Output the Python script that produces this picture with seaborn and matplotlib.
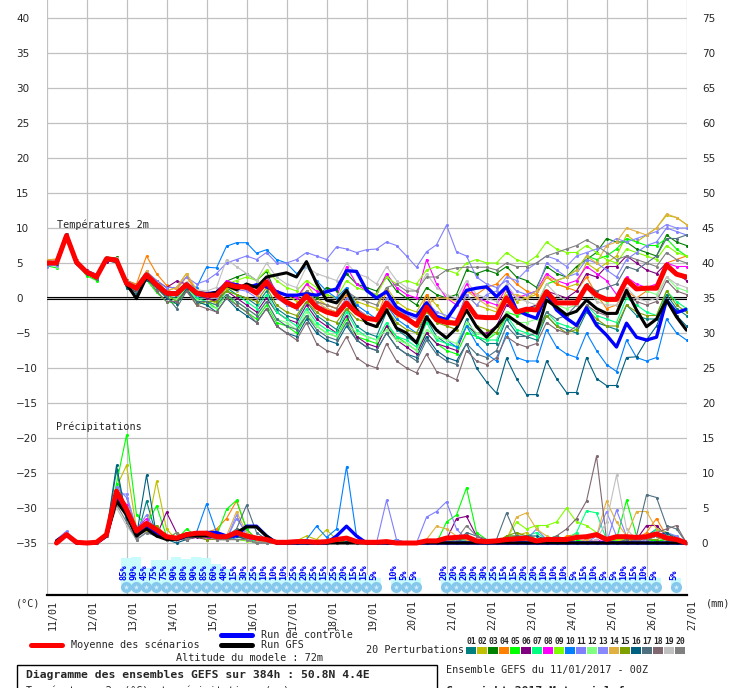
import numpy as np
import pandas as pd
import seaborn as sns
import matplotlib.pyplot as plt
from matplotlib.lines import Line2D
from matplotlib.patches import Rectangle

W, H = 729, 688

# ---- data (6-hourly steps from 11/01 00Z, 65 steps) ----
dates = ["11/01", "12/01", "13/01", "14/01", "15/01", "16/01", "17/01", "18/01", "19/01",
         "20/01", "21/01", "22/01", "23/01", "24/01", "25/01", "26/01", "27/01"]

# ensemble mean / control / GFS temperatures (°C)
t_mean = [5.0, 5.0, 8.9, 5.1, 3.7, 3.0, 5.6, 5.4,
          2.1, 1.4, 3.3, 1.9, 0.7, 0.6, 1.9, 0.7,
          0.4, 0.4, 2.0, 1.6, 1.6, 0.7, 2.3, 0.4,
          -0.6, -1.3, 0.3, -1.3, -2.0, -2.4, -0.7, -2.1,
          -2.9, -3.1, -0.7, -2.1, -2.9, -3.9, -1.3, -3.1,
          -3.5, -3.6, -0.7, -2.7, -2.8, -2.8, 0.0, -2.0,
          -1.6, -1.7, 0.9, -0.7, -0.7, -0.7, 1.7, 0.4,
          -0.2, -0.2, 2.6, 1.3, 1.4, 1.4, 4.7, 3.4, 3.0]
t_ctrl = [5.0, 5.0, 9.0, 5.0, 3.7, 3.0, 5.6, 5.4,
          2.0, 1.4, 3.4, 1.9, 0.8, 0.7, 2.0, 0.8,
          0.6, 0.8, 2.1, 1.9, 1.4, 1.9, 1.6, 0.9,
          0.4, 0.4, 0.6, 0.4, 0.9, 1.3, 3.9, 3.8,
          1.1, 0.0, 0.9, -1.3, -2.1, -2.6, -0.7, -2.6,
          -3.1, -1.0, 1.1, 1.4, 1.6, 0.2, 1.6, -1.7,
          -2.4, -2.9, 0.7, -1.7, -2.9, -3.9, -1.4, -3.9,
          -5.3, -7.0, -3.6, -5.6, -6.0, -5.6, -0.3, -2.1, -1.6]
t_gfs = [5.0, 5.0, 9.0, 5.0, 3.7, 3.0, 5.7, 5.5,
         2.0, -0.1, 3.0, 1.8, 0.6, 0.5, 1.8, 0.6,
         0.5, 0.8, 1.8, 1.2, 2.0, 1.5, 3.0, 3.3,
         3.6, 3.0, 5.2, 2.1, -0.3, -0.7, 1.1, -1.7,
         -3.6, -4.1, -1.7, -4.3, -5.0, -6.4, -2.7, -4.6,
         -5.7, -4.3, -1.7, -4.1, -5.6, -4.1, -2.4, -3.4,
         -4.3, -5.0, -0.3, -1.3, -2.4, -1.9, -0.3, -1.5,
         -2.2, -2.2, 1.1, -1.7, -4.1, -3.0, -0.3, -2.7, -4.6]

# 20 perturbations, temperature (°C)
t01 = [5.3, 5.2, 8.8, 5.0, 3.5, 2.8, 5.8, 5.5, 2.0, 0.8, 3.0, 1.5, 0.3, 0.0, 1.5, 0.2,
       0.0, -0.5, 1.5, 0.5, 0.0, -1.0, 1.0, -1.5, -2.5, -3.0, -0.5, -2.5, -3.5, -4.5, -1.5, -4.0,
       -5.0, -5.5, -2.0, -4.5, -5.5, -6.5, -3.0, -5.5, -6.5, -7.0, -3.0, -5.5, -6.5, -6.5, -3.0, -5.0,
       -5.5, -6.0, -2.5, -4.0, -4.5, -5.0, -2.0, -3.5, -4.0, -4.5, -1.0, -2.5, -3.0, -3.0, 0.5, -1.5, -2.5]
t02 = [5.0, 5.0, 9.0, 5.2, 3.8, 3.2, 5.5, 5.8, 2.5, 1.8, 3.8, 2.5, 1.0, 1.5, 3.5, 1.0,
       0.0, -0.8, 1.5, 1.0, 2.0, 0.5, 3.0, 1.0, 0.5, -0.5, 2.0, 0.0, -1.0, -1.5, 1.0, -0.5,
       -1.0, -1.5, 1.5, -0.5, -1.5, -2.0, 0.5, -1.0, -3.0, -3.5, 0.5, -1.0, -1.5, -2.0, 1.0, -0.5,
       0.0, 0.5, 3.0, 2.0, 1.5, 2.0, 5.0, 4.0, 5.0, 6.0, 9.0, 8.0, 9.0, 10.0, 11.8, 11.5, 10.5]
t03 = [4.8, 4.9, 8.7, 5.3, 3.6, 2.6, 5.4, 5.8, 2.6, 1.7, 3.2, 2.3, 1.0, 0.2, 1.6, 0.6,
       0.6, 0.6, 2.4, 3.0, 3.5, 2.5, 3.8, 0.5, -1.0, -1.5, 1.0, 0.0, 1.5, 1.0, 3.5, 2.0,
       1.5, 1.0, 3.0, 1.0, 0.0, -1.0, 1.5, 0.5, 0.0, 0.5, 4.0, 3.5, 4.0, 3.5, 4.5, 3.0,
       2.5, 1.5, 4.5, 3.5, 3.0, 4.5, 5.5, 6.5, 8.5, 8.0, 8.0, 7.0, 6.5, 6.0, 9.0, 8.0, 7.5]
t04 = [5.5, 5.5, 9.0, 5.0, 3.9, 3.0, 5.5, 5.2, 2.5, 2.0, 6.0, 3.5, 1.8, 1.2, 3.0, 1.0,
       0.8, 0.6, 2.2, 1.5, 1.2, 0.5, 1.8, 0.2, -0.5, -1.0, 0.5, -0.5, -1.0, -1.5, 0.5, -1.5,
       -2.5, -3.0, 1.0, -1.5, -2.5, -4.0, 0.5, -3.0, -3.5, -4.0, 1.0, 0.5, 1.5, 2.0, 3.5, 2.0,
       1.0, 0.5, 3.0, 2.0, 1.5, 1.0, 3.0, 0.5, -1.5, -1.0, 1.0, 0.0, 1.0, 2.0, 5.0, 5.5, 6.0]
t05 = [4.6, 4.3, 8.8, 5.0, 3.2, 2.5, 5.8, 5.0, 1.5, 0.8, 2.6, 0.8, -0.5, -0.8, 1.0, -0.5,
       -0.5, -1.5, 0.5, -1.0, -2.0, -3.0, -1.0, -3.5, -4.0, -5.0, -2.5, -4.0, -5.0, -5.5, -3.0, -5.5,
       -6.0, -6.5, -4.0, -5.5, -6.5, -7.5, -5.0, -6.5, -7.5, -8.0, -5.0, -5.5, -6.0, -5.0, -2.0, -2.5,
       -2.0, -1.0, 2.0, 2.5, 3.0, 4.0, 6.0, 5.5, 6.0, 7.0, 8.5, 8.0, 7.5, 7.5, 8.5, 7.0, 6.0]
t06 = [5.0, 4.8, 8.9, 5.5, 4.0, 3.4, 5.2, 5.3, 1.8, 0.8, 3.5, 2.5, 1.5, 2.4, 2.0, 0.5,
       0.0, -0.5, 1.0, 0.0, -1.0, -2.0, 0.0, -2.0, -3.0, -3.5, -1.0, -3.0, -4.0, -5.0, -2.5, -5.5,
       -6.5, -7.0, -4.0, -6.0, -7.0, -8.0, -5.0, -6.5, -7.0, -7.5, -4.0, -5.0, -5.0, -4.0, -1.0, -2.0,
       -1.5, -1.0, 1.0, 0.5, 0.0, 1.0, 3.5, 3.0, 4.5, 4.5, 6.0, 5.0, 4.0, 3.5, 5.0, 3.5, 2.5]
t07 = [4.9, 5.0, 9.0, 4.8, 3.5, 2.9, 5.6, 5.3, 1.8, 1.2, 3.0, 1.5, 0.2, -0.3, 1.4, 0.0,
       -0.5, -1.0, 1.0, 0.5, -0.5, -1.5, 0.5, -2.0, -3.0, -4.0, -1.5, -3.5, -4.5, -5.0, -2.0, -4.5,
       -5.5, -6.0, -3.5, -5.5, -6.0, -7.0, -3.5, -6.0, -6.5, -7.0, -4.0, -5.5, -6.0, -6.0, -2.5, -4.5,
       -5.0, -5.5, -2.0, -3.5, -4.0, -4.5, -1.0, -2.5, -3.0, -3.5, 0.0, -1.0, -2.0, -2.5, 1.0, -0.5, -1.5]
t08 = [5.1, 5.0, 9.0, 5.2, 3.8, 3.1, 5.7, 5.6, 2.2, 1.6, 3.6, 2.0, 0.8, 0.7, 2.2, 1.0,
       0.6, 0.5, 2.5, 2.0, 1.5, 1.0, 3.0, 1.0, 0.5, 0.0, 2.0, 1.0, 0.5, 0.0, 4.5, 2.0,
       1.0, 0.5, 3.5, 1.5, 0.5, 0.0, 5.5, 2.0, 0.0, -1.0, 2.0, 0.0, -0.5, -1.0, 1.5, 0.0,
       0.5, 1.0, 3.5, 2.5, 2.0, 2.5, 4.5, 3.5, 2.5, 0.5, 3.0, 2.0, 1.5, 2.0, 5.0, 4.5, 4.5]
t09 = [5.2, 5.1, 8.9, 5.1, 3.8, 3.0, 5.5, 5.6, 2.2, 1.5, 3.4, 2.0, 0.8, 0.6, 2.0, 0.8,
       0.5, 0.3, 2.0, 2.5, 3.0, 2.5, 4.0, 2.5, 1.5, 1.0, 2.5, 1.5, 0.5, 0.0, 2.5, 1.5,
       1.0, 0.5, 3.0, 2.0, 2.5, 2.0, 4.0, 4.5, 4.0, 3.5, 5.0, 5.5, 5.0, 5.0, 6.5, 5.5,
       5.0, 6.0, 8.0, 7.0, 6.5, 6.5, 7.5, 6.5, 5.5, 5.0, 7.0, 6.5, 6.0, 5.5, 7.5, 6.5, 6.0]
t10 = [5.0, 5.0, 9.0, 5.0, 3.7, 3.0, 5.5, 5.4, 2.0, 1.4, 3.3, 2.0, 0.8, 0.8, 2.0, 1.5,
       4.4, 4.3, 7.4, 7.9, 7.9, 6.4, 6.9, 5.5, 5.0, 3.5, 4.5, 2.5, 1.0, 0.0, 1.5, -1.0,
       -2.0, -3.0, -1.0, -3.0, -4.0, -5.0, -2.5, -4.5, -6.0, -7.0, -4.0, -6.5, -8.0, -9.0, -5.0, -8.5,
       -9.0, -9.0, -4.5, -7.0, -8.0, -8.5, -5.0, -7.5, -9.5, -10.5, -6.0, -8.5, -9.0, -8.5, -3.0, -5.0, -6.0]
t11 = [4.5, 4.8, 9.0, 5.2, 3.8, 3.2, 5.8, 5.6, 2.5, 1.8, 3.8, 2.5, 1.5, 1.5, 3.0, 2.0,
       2.5, 3.5, 5.0, 5.5, 6.0, 5.5, 6.5, 5.0, 5.0, 5.5, 6.5, 6.0, 5.5, 7.3, 7.0, 6.5,
       6.9, 7.0, 8.0, 7.5, 6.0, 4.4, 6.6, 7.6, 10.4, 6.6, 6.0, 3.0, 2.0, 1.5, 2.5, 1.0,
       0.5, 1.0, 5.0, 4.0, 3.0, 3.5, 5.5, 5.0, 4.0, 3.0, 5.5, 6.5, 7.5, 8.0, 10.0, 9.5, 9.0]
t12 = [5.0, 4.5, 8.8, 5.0, 3.5, 2.8, 5.5, 5.2, 1.8, 1.0, 2.8, 1.2, 0.2, -0.2, 1.5, -0.3,
       -1.0, -1.5, 0.5, -0.5, -1.5, -2.5, -0.5, -3.0, -3.5, -4.5, -2.0, -4.0, -5.0, -5.5, -3.5, -5.0,
       -5.5, -6.0, -4.5, -6.0, -6.5, -7.5, -4.5, -5.5, -6.0, -6.5, -3.5, -5.0, -5.5, -5.0, -2.0, -3.5,
       -3.5, -3.0, 0.0, -1.0, -1.5, -1.0, 1.5, 0.0, -0.5, 0.0, 2.5, 1.5, 1.0, 0.5, 3.0, 1.5, 1.0]
t13 = [4.7, 4.6, 9.0, 5.0, 3.7, 3.0, 5.6, 5.5, 2.0, 1.3, 3.0, 1.8, 0.6, 0.4, 1.8, 0.5,
       0.3, 0.0, 1.8, 1.2, 1.0, 0.0, 2.0, 0.0, -1.0, -1.5, 0.5, -1.0, -1.5, -2.0, 0.0, -1.5,
       -2.5, -3.0, 0.0, -1.5, -2.5, -3.0, -0.5, -2.0, -2.5, -3.0, 0.5, -1.0, 0.5, 1.0, 3.0, 2.5,
       4.0, 5.0, 6.0, 5.5, 4.5, 6.0, 6.5, 7.0, 7.5, 8.5, 8.0, 8.5, 9.0, 9.5, 10.5, 10.0, 10.0]
t14 = [5.4, 5.6, 9.0, 5.4, 3.9, 3.3, 5.9, 5.7, 2.4, 1.8, 3.8, 2.2, 1.0, 1.5, 3.5, 1.2,
       0.5, 0.3, 2.0, 1.5, 1.5, 0.5, 2.5, 0.5, -0.5, -1.0, 1.0, -0.5, -1.5, -2.0, -0.5, -2.0,
       -2.5, -3.5, -0.5, -2.5, -3.0, -3.5, -1.0, 0.0, 0.0, -0.5, 1.0, 0.0, -1.0, -1.5, 0.5, 0.5,
       0.0, 1.0, 3.0, 2.5, 3.0, 4.0, 6.0, 5.0, 7.5, 8.0, 10.0, 9.5, 9.0, 10.0, 12.0, 11.5, 10.5]
t15 = [5.0, 5.0, 8.8, 5.0, 3.6, 2.8, 5.4, 5.3, 1.9, 1.2, 3.1, 1.7, 0.5, -0.5, 1.2, -1.0,
       -0.5, -0.5, 1.0, 0.5, 0.0, -0.5, 1.5, -1.0, -2.0, -2.5, -0.5, -2.0, -3.0, -3.5, -1.5, -3.0,
       -3.5, -4.0, -1.5, -3.5, -4.5, -5.0, -2.0, -3.5, -4.0, -4.5, -2.0, -4.0, -4.5, -5.0, -2.5, -3.5,
       -4.5, -5.0, -2.5, -4.0, -5.0, -4.5, -1.5, -3.0, -4.0, -4.0, -1.0, -2.0, -2.5, -2.5, 1.0, -1.0, -2.0]
t16 = [5.0, 4.9, 8.8, 5.0, 3.5, 2.8, 5.4, 5.0, 1.5, 0.5, 2.6, 1.5, 0.0, -0.8, 1.3, -0.5,
       -1.0, -2.0, 0.0, -1.5, -2.5, -3.5, -1.5, -4.0, -5.0, -5.5, -3.0, -5.0, -6.0, -6.5, -4.0, -6.0,
       -7.0, -7.5, -5.0, -7.0, -8.0, -8.5, -5.5, -7.5, -8.5, -9.0, -6.5, -10.0, -12.0, -13.6, -8.6, -11.5,
       -13.8, -13.8, -9.0, -11.5, -13.5, -13.5, -8.5, -11.5, -12.5, -12.5, -8.5, -8.4, -6.0, -4.0, -0.5, -2.5, -4.0]
t17 = [5.1, 5.0, 8.9, 5.1, 3.6, 2.7, 5.5, 5.2, 1.8, 1.0, 3.0, 1.5, 0.3, -1.5, 1.0, -0.5,
       -0.5, -1.0, 0.5, -0.5, -1.5, -2.5, -0.5, -3.0, -4.0, -4.5, -2.5, -4.5, -5.5, -6.0, -3.5, -6.0,
       -7.0, -7.5, -5.0, -7.0, -8.0, -9.0, -6.0, -8.0, -9.0, -9.5, -6.5, -8.0, -8.5, -7.5, -4.0, -5.5,
       -5.5, -5.0, -2.0, -3.0, -2.5, -1.0, 2.0, 1.0, 1.5, 2.0, 4.5, 4.0, 5.0, 6.0, 8.5, 8.5, 9.0]
t18 = [4.9, 5.0, 9.2, 5.0, 3.6, 2.9, 5.5, 5.4, 2.0, 1.3, 3.0, 1.0, -0.5, -0.5, 1.0, -1.0,
       -1.5, -2.0, 0.0, -1.0, -2.0, -3.5, -1.5, -4.0, -5.0, -6.0, -3.5, -6.5, -7.5, -8.0, -5.5, -8.5,
       -9.5, -10.0, -6.5, -9.0, -10.0, -10.7, -8.0, -10.5, -11.0, -11.7, -7.5, -9.0, -9.5, -8.5, -5.5, -6.5,
       -7.0, -6.5, -3.5, -4.5, -5.0, -4.0, -1.0, -2.0, -2.5, -2.0, 0.5, -0.5, -1.0, -0.5, 2.5, 1.0, 0.5]
t19 = [5.0, 5.2, 9.0, 5.3, 3.9, 3.2, 5.8, 5.7, 2.3, 1.6, 3.5, 2.2, 1.0, 0.8, 2.3, 1.2,
       1.0, 1.5, 5.5, 4.5, 3.5, 2.5, 5.0, 3.0, 2.0, 1.5, 4.5, 3.5, 3.0, 2.5, 5.0, 3.5,
       3.0, 2.0, 4.5, 2.5, 1.5, 1.0, 3.5, 1.5, 0.5, 0.0, 2.5, 0.5, 0.0, -0.5, 2.0, 0.0,
       -0.5, -1.0, 2.0, 0.5, -0.5, -1.0, 1.5, -0.5, -1.0, -1.0, 1.5, 0.0, -0.5, 0.0, 3.0, 2.0, 1.5]
t20 = [5.2, 5.2, 9.1, 5.2, 3.8, 3.1, 5.6, 5.5, 2.1, 1.5, 3.4, 2.0, 0.8, 0.6, 2.0, 0.8,
       0.5, 0.5, 2.0, 1.8, 1.5, 0.8, 2.5, 0.5, -0.5, -1.0, 1.0, -0.5, -1.0, -1.5, 1.0, 0.0,
       -0.5, -1.0, 1.5, 2.0, 1.0, 1.0, 3.0, 3.0, 4.0, 4.3, 4.4, 4.4, 4.4, 4.0, 5.0, 4.5,
       4.5, 5.0, 6.0, 6.5, 7.0, 7.5, 8.3, 7.5, 6.5, 5.5, 6.0, 5.5, 5.0, 4.5, 6.5, 5.5, 5.0]

# precipitation (mm / 6h), steps 1..64
p_mean = [0.0, 1.2, 0.1, 0.0, 0.1, 1.2, 7.4, 4.8, 1.7, 2.8, 1.9, 0.9, 0.7, 1.2, 1.4, 1.4,
          0.9, 0.9, 1.5, 1.0, 0.7, 0.5, 0.1, 0.1, 0.2, 0.2, 0.1, 0.2, 0.5, 0.7, 0.2, 0.1,
          0.1, 0.2, 0.0, 0.0, 0.0, 0.3, 0.3, 0.7, 0.8, 0.9, 0.3, 0.2, 0.3, 0.5, 0.6, 0.7,
          0.3, 0.5, 0.5, 0.5, 0.8, 0.9, 1.2, 0.5, 0.9, 0.9, 0.8, 0.9, 1.3, 0.7, 0.5, 0.0]
p_ctrl = [0.3, 1.2, 0.0, 0.0, 0.0, 1.0, 6.5, 4.5, 1.5, 2.5, 1.5, 0.8, 0.5, 1.0, 1.2, 1.5,
          1.5, 1.0, 1.0, 2.4, 2.4, 1.0, 0.0, 0.0, 0.0, 0.0, 0.0, 0.0, 1.0, 2.4, 1.0, 0.0,
          0.0, 0.0, 0.0, 0.0, 0.0, 0.0, 0.0, 0.0, 0.0, 0.0, 0.0, 0.0, 0.0, 0.0, 0.0, 0.0,
          0.0, 0.0, 0.0, 0.0, 0.0, 0.0, 0.0, 0.0, 0.0, 0.0, 0.0, 0.0, 0.0, 0.0, 0.0, 0.0]
p_gfs = [0.3, 1.2, 0.0, 0.0, 0.0, 1.0, 6.0, 4.0, 1.0, 2.0, 1.0, 0.5, 0.5, 1.0, 1.0, 1.0,
         1.0, 0.8, 1.5, 2.3, 2.3, 1.0, 0.0, 0.0, 0.0, 0.0, 0.0, 0.0, 0.0, 0.0, 0.0, 0.0,
         0.0, 0.0, 0.0, 0.0, 0.0, 0.0, 0.0, 0.0, 0.0, 0.0, 0.0, 0.0, 0.0, 0.0, 0.0, 0.0,
         0.0, 0.0, 0.0, 0.0, 0.0, 0.0, 0.0, 0.0, 0.0, 0.0, 0.0, 0.0, 0.0, 0.0, 0.0, 0.0]

p01 = [0.3, 1.0, 0.0, 0.0, 0.0, 1.5, 10.4, 3.0, 0.5, 6.0, 1.0, 0.5, 0.3, 0.8, 1.0, 1.2,
       0.8, 0.5, 1.0, 0.5, 0.3, 0.0, 0.0, 0.0, 0.0, 0.0, 0.0, 0.0, 0.0, 0.2, 0.0, 0.0,
       0.0, 0.0, 0.0, 0.0, 0.0, 0.0, 0.2, 0.5, 0.3, 0.5, 0.2, 0.0, 0.0, 0.0, 0.0, 0.2,
       0.0, 0.0, 0.0, 0.0, 0.0, 0.0, 0.0, 0.0, 0.0, 0.0, 0.5, 1.0, 2.0, 1.5, 0.8, 0.0]
p02 = [0.2, 1.2, 0.0, 0.0, 0.0, 1.0, 8.0, 11.1, 2.0, 1.5, 8.8, 2.0, 0.5, 0.5, 1.0, 1.5,
       1.0, 0.5, 2.0, 1.0, 0.5, 0.2, 0.0, 0.0, 0.3, 1.0, 0.5, 1.9, 0.5, 0.0, 0.0, 0.0,
       0.0, 0.0, 0.0, 0.0, 0.0, 0.0, 0.0, 0.3, 0.5, 0.5, 0.0, 0.0, 0.0, 0.5, 1.0, 1.5,
       0.5, 0.3, 0.2, 0.0, 0.0, 0.0, 0.2, 0.0, 0.0, 0.5, 0.5, 0.0, 0.0, 0.0, 0.3, 0.0]
p03 = [0.3, 1.0, 0.0, 0.0, 0.1, 1.2, 6.5, 4.0, 1.0, 2.0, 1.0, 0.5, 0.5, 1.0, 1.2, 1.0,
       0.5, 0.5, 1.0, 0.8, 0.5, 0.3, 0.0, 0.0, 0.0, 0.0, 0.0, 0.0, 0.0, 0.0, 0.0, 0.0,
       0.0, 0.0, 0.0, 0.0, 0.0, 0.0, 0.0, 0.0, 0.0, 0.3, 0.2, 0.0, 0.0, 1.0, 1.0, 0.5,
       0.2, 0.3, 0.5, 0.3, 0.0, 0.0, 0.0, 0.0, 0.0, 0.2, 0.5, 0.5, 0.3, 0.5, 0.3, 0.0]
p04 = [0.2, 1.0, 0.0, 0.0, 0.0, 1.0, 7.0, 5.0, 1.0, 2.5, 1.5, 0.8, 0.5, 1.5, 1.0, 1.5,
       2.0, 3.5, 6.0, 2.0, 0.5, 0.2, 0.0, 0.0, 0.0, 0.0, 0.0, 0.0, 0.0, 0.0, 0.0, 0.0,
       0.0, 0.0, 0.0, 0.0, 0.0, 0.0, 0.0, 0.0, 0.0, 0.0, 0.0, 0.0, 0.0, 0.0, 0.0, 0.5,
       0.0, 0.0, 0.0, 1.0, 1.2, 0.5, 0.2, 0.0, 0.3, 0.3, 0.5, 1.5, 3.5, 1.0, 0.5, 0.0]
p05 = [0.3, 1.0, 0.0, 0.0, 0.2, 1.5, 8.5, 15.4, 4.0, 2.5, 5.3, 1.0, 0.5, 2.0, 1.0, 1.5,
       1.0, 4.8, 6.1, 2.0, 0.5, 0.2, 0.0, 0.0, 0.0, 0.0, 0.0, 0.0, 0.0, 0.0, 0.0, 0.0,
       0.0, 0.0, 0.0, 0.0, 0.0, 0.0, 0.0, 3.0, 4.0, 7.9, 1.5, 0.5, 0.0, 0.0, 0.0, 0.5,
       0.5, 0.0, 1.0, 0.0, 0.5, 0.0, 0.0, 0.0, 0.5, 6.1, 1.0, 0.5, 0.3, 0.5, 0.3, 0.0]
p06 = [0.2, 1.0, 0.0, 0.0, 0.0, 1.0, 6.0, 4.0, 1.5, 2.0, 1.0, 4.4, 1.5, 0.5, 0.8, 0.5,
       1.0, 0.5, 0.5, 0.5, 0.3, 0.0, 0.0, 0.0, 0.0, 0.0, 0.0, 0.0, 0.0, 0.0, 0.0, 0.0,
       0.0, 0.0, 0.0, 0.0, 0.0, 0.0, 0.0, 0.5, 3.5, 3.8, 1.0, 0.3, 0.0, 0.0, 0.0, 0.0,
       0.0, 0.0, 0.0, 0.0, 0.0, 0.0, 0.0, 0.0, 0.0, 0.0, 0.5, 2.5, 2.5, 1.0, 0.5, 0.0]
p07 = [0.3, 1.2, 0.0, 0.0, 0.0, 1.2, 7.5, 5.0, 1.0, 3.0, 1.5, 0.8, 0.5, 1.0, 1.5, 1.2,
       1.0, 0.8, 1.0, 0.5, 0.3, 0.0, 0.0, 0.0, 0.0, 0.0, 0.0, 0.0, 0.0, 0.0, 0.0, 0.0,
       0.0, 0.0, 0.0, 0.0, 0.0, 0.0, 0.0, 0.0, 0.5, 0.5, 0.0, 0.0, 0.0, 0.0, 0.0, 1.0,
       1.5, 0.5, 1.0, 0.5, 1.5, 4.6, 4.3, 0.5, 0.5, 1.0, 0.5, 0.5, 2.0, 1.5, 0.5, 0.0]
p08 = [0.2, 1.2, 0.0, 0.0, 0.0, 1.0, 7.0, 5.5, 2.0, 3.5, 1.0, 0.5, 0.5, 1.0, 1.0, 0.8,
       0.5, 0.5, 1.0, 0.5, 0.5, 0.0, 0.0, 0.0, 0.0, 0.0, 0.0, 0.0, 0.0, 0.0, 0.0, 0.0,
       0.0, 0.0, 0.0, 0.0, 0.0, 0.0, 0.0, 0.0, 0.0, 0.0, 0.0, 0.0, 0.0, 0.0, 0.0, 0.0,
       0.0, 0.0, 0.0, 0.0, 0.0, 0.0, 0.5, 0.0, 0.0, 0.0, 0.5, 1.0, 1.5, 1.0, 0.5, 0.0]
p09 = [0.3, 1.0, 0.0, 0.0, 0.0, 1.0, 6.5, 4.5, 1.0, 2.0, 1.5, 0.5, 1.5, 0.5, 1.0, 1.0,
       0.5, 0.5, 0.5, 0.3, 0.0, 0.0, 0.0, 0.0, 0.0, 0.0, 0.0, 0.0, 0.0, 0.0, 0.0, 0.0,
       0.0, 0.0, 0.0, 0.0, 0.0, 0.0, 0.0, 0.0, 0.0, 0.0, 0.0, 0.0, 0.0, 0.5, 3.0, 2.0,
       2.5, 2.5, 3.0, 5.0, 3.0, 2.5, 1.5, 0.5, 0.5, 0.5, 0.5, 0.5, 1.0, 1.0, 0.5, 0.0]
p10 = [0.3, 1.0, 0.0, 0.0, 0.0, 1.0, 6.0, 4.0, 0.5, 1.5, 1.0, 0.5, 0.5, 1.0, 1.5, 5.6,
       1.5, 1.0, 0.5, 0.5, 0.0, 0.0, 0.0, 0.0, 0.3, 0.5, 2.4, 0.8, 2.0, 10.9, 1.0, 0.0,
       0.0, 0.0, 0.5, 0.0, 0.0, 0.0, 0.0, 0.0, 0.0, 0.0, 0.0, 0.0, 0.0, 0.0, 0.0, 0.0,
       0.0, 0.0, 0.0, 0.0, 0.0, 0.0, 0.0, 0.0, 0.0, 0.0, 0.0, 0.0, 0.0, 0.0, 0.0, 0.0]
p11 = [0.5, 1.7, 0.0, 0.0, 0.0, 1.5, 8.0, 6.5, 2.0, 4.0, 1.5, 0.5, 0.5, 1.0, 1.5, 1.0,
       0.5, 0.5, 3.5, 1.5, 0.5, 0.0, 0.0, 0.0, 0.0, 0.0, 0.0, 0.0, 0.0, 0.0, 0.0, 0.0,
       0.0, 6.1, 0.5, 0.0, 0.0, 3.7, 4.5, 5.9, 2.0, 0.5, 0.0, 0.0, 0.0, 0.0, 0.0, 0.5,
       2.0, 0.5, 0.0, 0.0, 0.0, 0.5, 1.0, 0.0, 4.7, 1.0, 0.0, 0.5, 1.0, 1.5, 1.0, 0.0]
p12 = [0.3, 1.0, 0.0, 0.0, 0.0, 1.0, 6.0, 4.0, 1.0, 2.0, 1.0, 0.8, 0.5, 0.5, 1.0, 1.0,
       0.5, 0.5, 0.5, 0.5, 0.0, 0.0, 0.0, 0.0, 0.0, 0.0, 0.0, 0.0, 0.0, 0.0, 0.0, 0.0,
       0.0, 0.0, 0.0, 0.0, 0.0, 0.0, 0.0, 0.0, 0.5, 1.0, 0.5, 0.0, 0.0, 0.5, 0.5, 0.5,
       0.0, 0.0, 0.0, 0.0, 0.0, 0.0, 0.0, 0.0, 0.0, 0.5, 0.5, 1.0, 1.0, 1.5, 0.5, 0.0]
p13 = [0.2, 1.0, 0.0, 0.0, 0.0, 1.0, 7.0, 7.0, 2.0, 3.0, 1.0, 0.5, 0.5, 0.5, 1.0, 1.0,
       0.5, 0.5, 4.0, 1.0, 0.5, 0.0, 0.0, 0.0, 0.0, 0.0, 0.0, 0.0, 0.0, 0.0, 0.0, 0.0,
       0.0, 0.0, 0.0, 0.0, 0.0, 0.0, 0.0, 0.5, 1.0, 0.5, 0.0, 0.0, 0.0, 0.0, 0.0, 0.0,
       0.0, 0.0, 0.5, 0.5, 0.0, 0.0, 1.0, 4.5, 1.0, 0.5, 0.5, 0.5, 1.0, 1.5, 0.5, 0.0]
p14 = [0.2, 1.0, 0.0, 0.0, 0.0, 1.0, 7.0, 5.0, 1.5, 2.0, 1.5, 0.5, 0.5, 1.0, 1.0, 1.5,
       1.0, 1.0, 4.5, 1.5, 0.5, 0.0, 0.0, 0.0, 0.0, 0.0, 0.0, 0.0, 0.0, 0.0, 0.0, 0.0,
       0.0, 0.0, 0.0, 0.0, 0.0, 0.5, 2.4, 2.0, 1.0, 0.5, 0.0, 0.0, 0.0, 0.5, 3.7, 4.3,
       2.0, 1.0, 0.5, 0.0, 0.0, 0.5, 1.0, 6.0, 3.0, 1.0, 4.5, 4.5, 2.0, 1.5, 0.5, 0.0]
p15 = [0.3, 1.0, 0.0, 0.0, 0.0, 1.0, 6.5, 4.5, 1.5, 2.0, 2.5, 1.0, 0.5, 1.5, 1.0, 0.5,
       0.5, 0.5, 1.0, 0.5, 0.0, 0.0, 0.0, 0.0, 0.0, 0.0, 0.0, 0.0, 0.0, 0.0, 0.0, 0.0,
       0.0, 0.0, 0.0, 0.0, 0.0, 0.0, 0.0, 0.0, 0.0, 0.0, 0.0, 0.0, 0.0, 1.0, 1.5, 1.0,
       0.5, 0.5, 0.0, 0.0, 0.0, 0.0, 0.0, 0.0, 0.0, 0.5, 0.5, 0.5, 0.5, 1.0, 0.5, 0.0]
p16 = [0.3, 1.0, 0.0, 0.0, 0.0, 1.5, 11.1, 3.5, 1.0, 9.7, 1.0, 0.5, 0.0, 0.5, 1.0, 1.5,
       1.0, 0.5, 1.0, 0.5, 0.0, 0.0, 0.0, 0.0, 0.0, 0.0, 0.0, 0.0, 0.0, 0.0, 0.0, 0.0,
       0.0, 0.0, 0.0, 0.0, 0.0, 0.0, 0.0, 0.0, 0.0, 0.0, 0.0, 0.0, 0.0, 0.0, 0.5, 1.0,
       1.0, 0.5, 0.0, 0.0, 0.0, 0.0, 0.0, 0.0, 0.0, 0.0, 0.5, 0.5, 1.0, 1.5, 0.5, 0.0]
p17 = [0.2, 1.0, 0.0, 0.0, 0.0, 1.0, 7.0, 4.5, 1.0, 2.5, 1.0, 0.5, 0.5, 0.5, 1.0, 1.5,
       1.0, 1.0, 2.0, 5.4, 1.5, 0.5, 0.0, 0.0, 0.0, 0.0, 0.0, 0.0, 0.0, 0.0, 0.0, 0.0,
       0.0, 0.0, 0.0, 0.0, 0.0, 0.0, 0.0, 0.0, 0.0, 1.5, 1.0, 0.5, 0.5, 4.3, 1.0, 1.0,
       0.5, 0.5, 0.5, 0.0, 0.0, 0.0, 0.0, 0.0, 0.0, 0.5, 1.0, 6.9, 6.5, 2.5, 2.0, 0.0]
p18 = [0.3, 1.0, 0.0, 0.0, 0.0, 1.0, 6.0, 4.0, 1.0, 2.0, 1.0, 0.5, 0.5, 0.5, 1.0, 1.0,
       0.5, 0.5, 0.5, 0.5, 0.0, 0.0, 0.0, 0.0, 0.0, 0.0, 0.0, 0.0, 0.0, 0.0, 0.0, 0.0,
       0.0, 0.0, 0.0, 0.0, 0.0, 0.0, 0.0, 0.0, 0.0, 0.0, 0.0, 0.0, 0.0, 0.0, 0.0, 0.0,
       0.0, 0.5, 1.0, 2.0, 3.5, 6.0, 12.4, 0.5, 0.0, 0.0, 0.0, 1.0, 1.5, 2.0, 2.5, 0.0]
p19 = [0.3, 1.2, 0.0, 0.0, 0.0, 1.0, 5.0, 2.5, 0.5, 1.5, 1.0, 0.5, 0.5, 1.0, 1.5, 1.0,
       0.5, 0.5, 0.5, 0.5, 0.0, 0.0, 0.0, 0.0, 0.0, 0.0, 0.0, 0.0, 0.0, 0.0, 0.0, 0.0,
       0.0, 0.0, 0.0, 0.0, 0.0, 0.0, 0.0, 0.0, 0.0, 0.0, 0.0, 0.0, 0.0, 0.0, 0.0, 0.0,
       0.0, 0.0, 0.0, 0.0, 0.0, 0.0, 0.5, 3.0, 9.7, 2.0, 0.5, 0.5, 1.0, 1.0, 0.5, 0.0]
p20 = [0.3, 1.0, 0.0, 0.0, 0.0, 1.0, 5.5, 3.0, 0.5, 1.5, 1.0, 0.5, 1.5, 0.5, 1.0, 1.0,
       0.5, 0.5, 0.5, 0.5, 0.0, 0.0, 0.0, 0.0, 0.0, 0.0, 0.0, 0.0, 0.0, 0.0, 0.0, 0.0,
       0.0, 0.0, 0.0, 0.0, 0.0, 0.0, 0.0, 0.0, 0.5, 2.5, 1.0, 0.5, 0.5, 0.5, 0.5, 0.0,
       0.0, 0.0, 0.0, 0.0, 0.0, 0.0, 0.0, 0.0, 0.0, 0.0, 0.5, 0.5, 1.0, 1.0, 0.5, 0.0]

# probability of precipitation (%) per 6h step, None = no label
pop = [None] * 8 + [85, 90, 45, 75, 75, 90, 80, 90, 85, 60, 40, 15, 30, 25, 10, 10,
       10, 25, 20, 25, 15, 25, 20, 15, 15, 5, None, 10, 5, 5, None, None,
       20, 20, 20, 20, 30, 25, 15, 15, 20, 20, 10, 10, 10, 5, 15, 10,
       5, 5, 10, 15, 10, 5, None, 5, None]

member_names = ["%02d" % i for i in range(1, 21)]
member_colors = ["#008080", "#c0c000", "#008000", "#ff8000", "#00ff00", "#800080", "#00ff80",
                 "#ff00ff", "#80ff00", "#0080ff", "#8080ff", "#80ff80", "#8888ff", "#e0b040",
                 "#80a000", "#006080", "#507080", "#806870", "#c0c0c0", "#808080"]
temps = [t01, t02, t03, t04, t05, t06, t07, t08, t09, t10,
         t11, t12, t13, t14, t15, t16, t17, t18, t19, t20]
precs = [p01, p02, p03, p04, p05, p06, p07, p08, p09, p10,
         p11, p12, p13, p14, p15, p16, p17, p18, p19, p20]

day = np.arange(65) / 4.0
pday = day[1:]

temp_df = pd.DataFrame({"day": np.tile(day, 20),
                        "temp": np.concatenate(temps),
                        "member": np.repeat(member_names, 65)})
prec_df = pd.DataFrame({"day": np.tile(pday, 20),
                        "prec": np.concatenate(precs),
                        "member": np.repeat(member_names, 64)})
palette = dict(zip(member_names, member_colors))

# ---- figure ----
sns.set_style("white")
plt.rcParams["font.family"] = ["DejaVu Sans Mono"]

fig = plt.figure(figsize=(W / 100, H / 100), dpi=100)
ax = fig.add_axes([46.5 / W, 1 - 595 / H, 640 / W, 595 / H])
ylo, yhi = 40 - 577 / 7, 40 + 18 / 7
ax.set_xlim(0, 16)
ax.set_ylim(ylo, yhi)
ax2 = ax.twinx()
ax2.set_ylim(ylo + 35, yhi + 35)

# 0°C double line
ax.axhline(0.14, color="black", lw=0.8, zorder=2)
ax.axhline(-0.16, color="black", lw=0.8, zorder=2)

# temperatures
sns.lineplot(data=temp_df, x="day", y="temp", hue="member", palette=palette, estimator=None,
             sort=False, legend=False, lw=0.8, marker="o", markersize=2.2, markeredgewidth=0,
             ax=ax, zorder=3)
sns.lineplot(x=day, y=t_ctrl, color="#0000ff", lw=2.4, ax=ax, zorder=4)
sns.lineplot(x=day, y=t_gfs, color="black", lw=2.2, ax=ax, zorder=4)
sns.lineplot(x=day, y=t_mean, color="#ff0000", lw=3.6, ax=ax, zorder=5)

# precipitation
sns.lineplot(data=prec_df, x="day", y="prec", hue="member", palette=palette, estimator=None,
             sort=False, legend=False, lw=0.8, marker="o", markersize=2.2, markeredgewidth=0,
             ax=ax2, zorder=3)
sns.lineplot(x=pday, y=p_ctrl, color="#0000ff", lw=2.4, ax=ax2, zorder=4)
sns.lineplot(x=pday, y=p_gfs, color="black", lw=2.2, ax=ax2, zorder=4)
sns.lineplot(x=pday, y=p_mean, color="#ff0000", lw=3.6, ax=ax2, zorder=5)

# axes styling (after seaborn, which sets its own labels)
for a in (ax, ax2):
    for s in a.spines.values():
        s.set_visible(False)
    a.set_xlabel("")
    a.set_ylabel("")
ax.spines["bottom"].set_visible(True)
ax.spines["bottom"].set_color("black")
ax.spines["bottom"].set_linewidth(1.6)

ax.set_xlim(0, 16)
ax.set_xticks(range(17))
ax.set_xticklabels([])
ax.set_yticks(range(-35, 45, 5))
ax.grid(True, color="#c0c0c0", lw=0.9)
ax.set_axisbelow(True)
ax.tick_params(axis="x", length=0)
ax.tick_params(axis="y", length=0, pad=22, labelsize=7.5)
for lbl in ax.get_yticklabels():
    lbl.set_ha("left")
    lbl.set_fontfamily("DejaVu Sans")
ax2.set_yticks(range(0, 80, 5))
ax2.tick_params(axis="y", length=0, pad=11, labelsize=7.5)
for lbl in ax2.get_yticklabels():
    lbl.set_fontfamily("DejaVu Sans")
ax2.grid(False)

# probability band
pk = [i for i, v in enumerate(pop) if v is not None]
pv = np.array([pop[i] for i in pk])
pd_x = day[pk]
base = 40 - 572 / 7
ax.bar(pd_x - 0.0125, (11 + 0.25 * pv) / 7, bottom=base, width=0.25, color="#c8fcfc",
       zorder=2, linewidth=0)
ax.scatter(pd_x - 0.0125, np.full(len(pk), 40 - 569 / 7), s=64, color="#86c8ec", zorder=3,
           linewidths=0)
ax.scatter(pd_x - 0.0125, np.full(len(pk), 40 - 569 / 7), s=16, marker="*", color="#d4eeff",
           zorder=3, linewidths=0)
for x, v in zip(pd_x, pv):
    ax.text(x - 0.06, 40 - 562 / 7, "%d%%" % v, rotation=90, ha="center", va="bottom",
            fontsize=6.3, color="#0000ff", fontweight="bold", zorder=6)

ax.text(0.26, 40 - 207 / 7, "Températures 2m", fontsize=7.3, va="center", ha="left")
ax.text(0.24, 40 - 409 / 7, "Précipitations", fontsize=7.3, va="center", ha="left")

# date labels
for i, d in enumerate(dates):
    ax.text(i + 0.15, 40 - 582 / 7, d, rotation=90, ha="center", va="top", fontsize=7.2,
            clip_on=False)


def fx(px):
    return px / W


def fy(py):
    return 1 - py / H


fig.text(fx(16), fy(604), "(°C)", fontsize=7.3, va="center", ha="left")
fig.text(fx(706), fy(604), "(mm)", fontsize=7.3, va="center", ha="left")

# legend
fig.add_artist(Line2D([fx(31), fx(62)], [fy(645), fy(645)], color="#ff0000", lw=3.6))
fig.text(fx(71), fy(645), "Moyenne des scénarios", fontsize=7.3, va="center")
fig.add_artist(Line2D([fx(221), fx(252)], [fy(635), fy(635)], color="#0000ff", lw=3.6))
fig.text(fx(261), fy(635), "Run de contrôle", fontsize=7.3, va="center")
fig.add_artist(Line2D([fx(221), fx(252)], [fy(645), fy(645)], color="black", lw=3.6))
fig.text(fx(261), fy(645), "Run GFS", fontsize=7.3, va="center")
fig.text(fx(176), fy(658), "Altitude du modele : 72m", fontsize=7.3, va="center")
fig.text(fx(366), fy(650), "20 Perturbations", fontsize=7.3, va="center")
for i, (name, col) in enumerate(zip(member_names, member_colors)):
    x0 = 466 + i * 11
    fig.add_artist(Rectangle((fx(x0), fy(654)), 10 / W, 7 / H, color=col, lw=0))
    fig.text(fx(x0 + 5), fy(642), name, fontsize=5.8, ha="center", va="center",
             fontweight="bold")

# title box (lower lines are cut by the image edge, as in the original)
fig.add_artist(Rectangle((fx(17), fy(700)), 420 / W, 35 / H, fill=False, ec="black", lw=1))
fig.text(fx(26), fy(675), "Diagramme des ensembles GEFS sur 384h : 50.8N 4.4E", fontsize=8.2,
         fontweight="bold", va="center")
fig.text(fx(26), fy(691), "Températures 2m (°C) et précipitations (mm)", fontsize=7.3,
         va="center")
fig.text(fx(446), fy(670), "Ensemble GEFS du 11/01/2017 - 00Z", fontsize=7.3, va="center")
fig.text(fx(446), fy(691), "Copyright 2017 Meteociel.fr", fontsize=8.2, fontweight="bold",
         va="center")

fig.savefig("out.png", dpi=100)
